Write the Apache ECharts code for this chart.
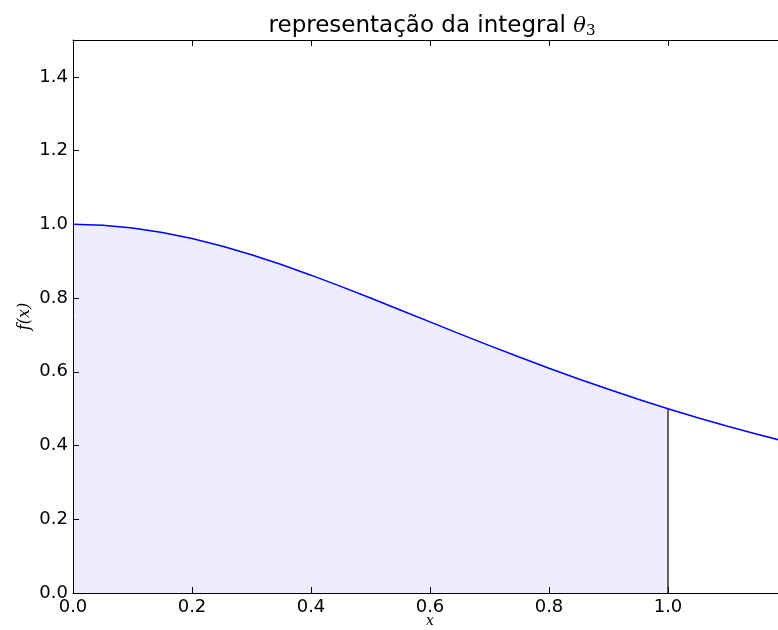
<!DOCTYPE html>
<html>
<head>
<meta charset="utf-8">
<script src="https://cdn.jsdelivr.net/npm/echarts@6/dist/echarts.min.js"></script>
<style>
  html, body { margin: 0; padding: 0; background: #fff; overflow: hidden; }
  #chart { width: 778px; height: 630px; }
</style>
</head>
<body>
<div id="chart"></div>
<script>
// Curve samples f(x) along x
const xValues = [0, 0.05, 0.1, 0.15, 0.2, 0.25, 0.3, 0.35, 0.4, 0.45, 0.5, 0.55, 0.6,
                 0.65, 0.7, 0.75, 0.8, 0.85, 0.9, 0.95, 1.0, 1.05, 1.1, 1.15, 1.2];
const fValues = [1.0, 0.9975, 0.9901, 0.978, 0.9615, 0.9412, 0.9174, 0.8909, 0.8621, 0.8316, 0.8, 0.7678, 0.7353,
                 0.703, 0.6711, 0.64, 0.6098, 0.5806, 0.5525, 0.5256, 0.5, 0.4756, 0.4525, 0.4306, 0.4098];
// Integration limits of the shaded region
const lowerLimit = 0;
const upperLimit = 1.0;
const upperValue = 0.5;

const curve = xValues.map((x, i) => [x, fValues[i]]);
const shaded = curve.filter(p => p[0] >= lowerLimit && p[0] <= upperLimit);

const tickFont = { fontFamily: 'DejaVu Sans', fontSize: 18, color: '#000' };
const axisLine = { show: true, lineStyle: { color: '#000', width: 1 } };
const tick = { show: true, inside: true, length: 6, lineStyle: { color: '#000', width: 1 } };

const chart = echarts.init(document.getElementById('chart'), null, { renderer: 'canvas' });
chart.setOption({
  animation: false,
  backgroundColor: '#fff',
  title: {
    text: 'representação da integral {t|θ}{s|3}',
    left: 427,
    textAlign: 'center',
    top: 9,
    textStyle: {
      fontFamily: 'DejaVu Sans', fontSize: 23, fontWeight: 'normal', color: '#000',
      rich: {
        t: { fontFamily: 'DejaVu Serif', fontStyle: 'italic', fontSize: 21, color: '#000' },
        s: { fontFamily: 'DejaVu Serif', fontSize: 15, color: '#000', verticalAlign: 'bottom', padding: [10, 0, 0, 0] }
      }
    }
  },
  grid: { left: 73, top: 40, width: 714, height: 553, containLabel: false, outerBoundsMode: 'none' },
  xAxis: [{
    type: 'value', min: 0, max: 1.2, interval: 0.2, position: 'bottom',
    name: 'x', nameLocation: 'middle', nameGap: 21, nameMoveOverlap: false,
    nameTextStyle: { fontFamily: 'DejaVu Serif', fontStyle: 'italic', fontSize: 14, color: '#000' },
    axisLine: axisLine, axisTick: tick, splitLine: { show: false },
    axisLabel: Object.assign({ margin: 5, showMaxLabel: false, formatter: v => v.toFixed(1) }, tickFont)
  }, {
    type: 'value', min: 0, max: 1.2, interval: 0.2, position: 'top',
    axisLine: axisLine, axisTick: tick, splitLine: { show: false }, axisLabel: { show: false }
  }],
  yAxis: [{
    type: 'value', min: 0, max: 1.5, interval: 0.2,
    name: 'f(x)', nameLocation: 'middle', nameGap: 40, nameRotate: 90, nameMoveOverlap: false,
    nameTextStyle: { fontFamily: 'DejaVu Serif', fontStyle: 'italic', fontSize: 16, color: '#000' },
    axisLine: axisLine, axisTick: tick, splitLine: { show: false },
    axisLabel: Object.assign({ margin: 5, showMaxLabel: false, formatter: v => v.toFixed(1) }, tickFont)
  }],
  series: [{
    type: 'line', data: shaded, symbol: 'none', smooth: false,
    lineStyle: { width: 0 }, areaStyle: { color: 'rgba(0,0,255,0.1)', origin: 'start' },
    z: 1
  }, {
    type: 'line', data: [[upperLimit, 0], [upperLimit, upperValue]], symbol: 'none',
    lineStyle: { color: '#000', width: 1.2 }, z: 2
  }, {
    type: 'line', data: curve, symbol: 'none', smooth: false,
    lineStyle: { color: '#0000ff', width: 1.5 }, z: 3
  }]
});
</script>
</body>
</html>
